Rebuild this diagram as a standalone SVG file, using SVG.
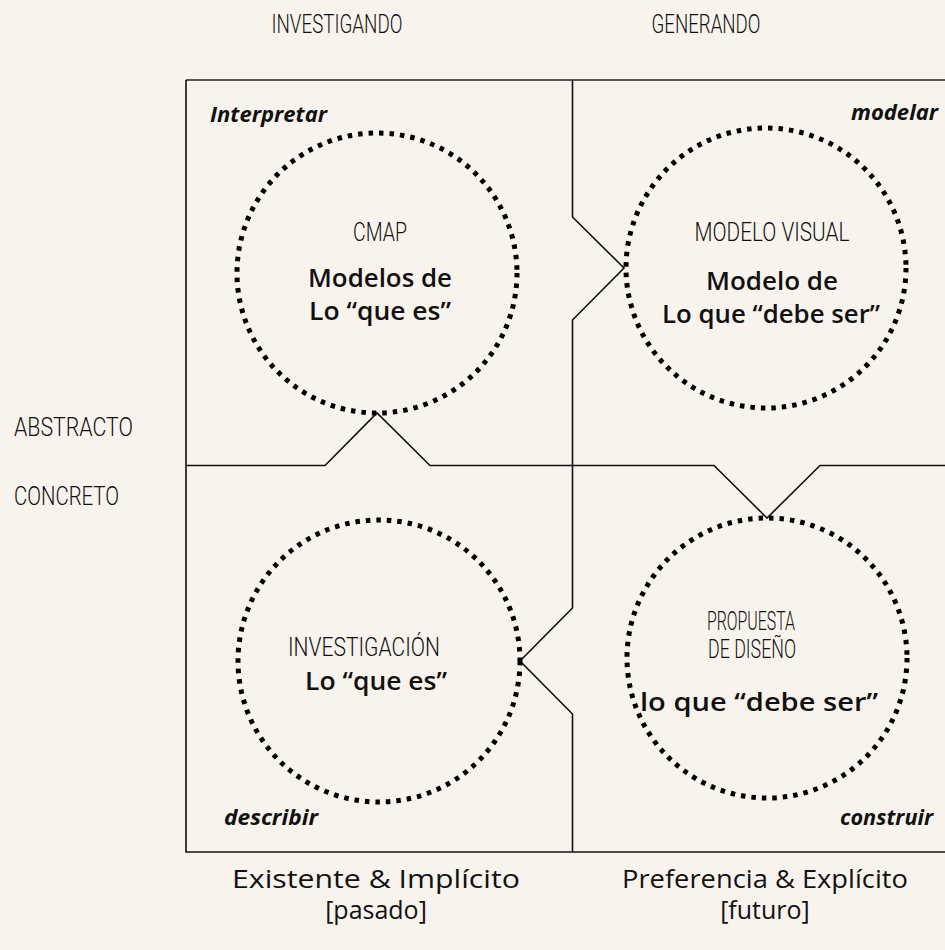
<svg xmlns="http://www.w3.org/2000/svg" width="945" height="950" viewBox="0 0 945 950">
<style>
.cond{font-family:Roboto,"DejaVu Sans",sans-serif;font-size:25px;font-weight:300;fill:#111;}
.bold{font-family:"Open Sans","Noto Sans",sans-serif;font-size:25px;font-weight:600;fill:#111;}
.ital{font-family:"Open Sans","Noto Sans",sans-serif;font-size:21px;font-weight:700;font-style:italic;fill:#111;}
.reg{font-family:"Open Sans","Noto Sans",sans-serif;font-size:25px;font-weight:400;fill:#111;}
.dot{fill:none;stroke:#000;stroke-width:5;stroke-dasharray:4.5 6;}
.ln{fill:none;stroke:#111;stroke-width:1.6;}
</style>
<rect width="945" height="950" fill="#f8f4ed"/>
<g id="frame">
<path d="M186,80 H945" fill="none" stroke="#555" stroke-width="2.2"/>
<path class="ln" d="M186,80 V852 H945"/>
</g>
<g id="connectors">
<path class="ln" d="M572.5,80 V217 L624,268 L572.5,320 V465"/>
<path class="ln" d="M186,465.5 H325 L377,413 L430,465.5 H714 L767,518 L820,465.5 H945"/>
<path class="ln" d="M572.5,465 V608 L520,661 L572.5,714 V852"/>
</g>
<g id="headers">
<text class="cond" x="337" y="33" text-anchor="middle" textLength="131" lengthAdjust="spacingAndGlyphs">INVESTIGANDO</text>
<text class="cond" x="706" y="33" text-anchor="middle" textLength="109" lengthAdjust="spacingAndGlyphs">GENERANDO</text>
<text class="cond" x="14" y="436" textLength="119" lengthAdjust="spacingAndGlyphs">ABSTRACTO</text>
<text class="cond" x="14" y="505" textLength="105" lengthAdjust="spacingAndGlyphs">CONCRETO</text>
</g>
<g id="node-cmap">
<circle class="dot" cx="377" cy="273" r="140"/>
<text class="ital" x="210" y="122" textLength="117" lengthAdjust="spacingAndGlyphs">Interpretar</text>
<text class="cond" x="380" y="241" text-anchor="middle" textLength="54" lengthAdjust="spacingAndGlyphs">CMAP</text>
<text class="bold" x="380" y="287" text-anchor="middle" textLength="144" lengthAdjust="spacingAndGlyphs">Modelos de</text>
<text class="bold" x="380" y="320" text-anchor="middle" textLength="142" lengthAdjust="spacingAndGlyphs">Lo “que es”</text>
</g>
<g id="node-modelo">
<circle class="dot" cx="766" cy="268" r="140"/>
<text class="ital" x="938" y="120" text-anchor="end" textLength="87" lengthAdjust="spacingAndGlyphs">modelar</text>
<text class="cond" x="772" y="241" text-anchor="middle" textLength="155" lengthAdjust="spacingAndGlyphs">MODELO VISUAL</text>
<text class="bold" x="772" y="290" text-anchor="middle" textLength="132" lengthAdjust="spacingAndGlyphs">Modelo de</text>
<text class="bold" x="771" y="323" text-anchor="middle" textLength="218" lengthAdjust="spacingAndGlyphs">Lo que “debe ser”</text>
</g>
<g id="node-investigacion">
<circle class="dot" cx="379" cy="661" r="141"/>
<text class="ital" x="224" y="825" textLength="94" lengthAdjust="spacingAndGlyphs">describir</text>
<text class="cond" x="364" y="656" text-anchor="middle" textLength="152" lengthAdjust="spacingAndGlyphs">INVESTIGACIÓN</text>
<text class="bold" x="376" y="690" text-anchor="middle" textLength="142" lengthAdjust="spacingAndGlyphs">Lo “que es”</text>
</g>
<g id="node-propuesta">
<circle class="dot" cx="767" cy="658" r="140"/>
<text class="ital" x="933" y="825" text-anchor="end" textLength="93" lengthAdjust="spacingAndGlyphs">construir</text>
<text class="cond" x="751" y="630" text-anchor="middle" font-size="23" textLength="88" lengthAdjust="spacingAndGlyphs">PROPUESTA</text>
<text class="cond" x="752" y="658" text-anchor="middle" font-size="23" textLength="88" lengthAdjust="spacingAndGlyphs">DE DISEÑO</text>
<text class="bold" x="759" y="711" text-anchor="middle" textLength="238" lengthAdjust="spacingAndGlyphs">lo que “debe ser”</text>
</g>
<g id="footer">
<text class="reg" x="376" y="888" text-anchor="middle" textLength="288" lengthAdjust="spacingAndGlyphs">Existente &amp; Implícito</text>
<text class="reg" x="376" y="919" text-anchor="middle">[pasado]</text>
<text class="reg" x="765" y="888" text-anchor="middle" textLength="286" lengthAdjust="spacingAndGlyphs">Preferencia &amp; Explícito</text>
<text class="reg" x="765" y="919" text-anchor="middle">[futuro]</text>
</g>
</svg>
